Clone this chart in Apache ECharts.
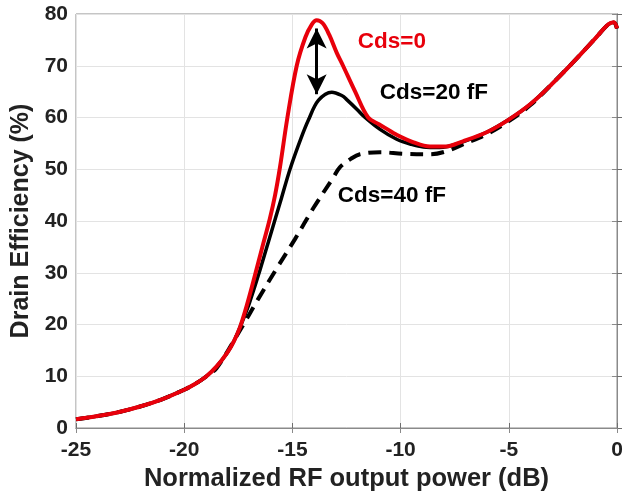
<!DOCTYPE html>
<html>
<head>
<meta charset="utf-8">
<script src="https://cdn.jsdelivr.net/npm/echarts@6/dist/echarts.min.js"></script>
<style>
html,body{margin:0;padding:0;background:#fff;}
#chart{width:632px;height:497px;}
</style>
</head>
<body>
<div id="chart"></div>
<script>
// ---- data ----
const xTicks = [-25, -20, -15, -10, -5, 0];
const yTicks = [0, 10, 20, 30, 40, 50, 60, 70, 80];

const cds0X = [-25, -24, -23, -22, -21, -20, -19.5, -19, -18.5, -18, -17.7, -17.42, -17.1, -16.73, -16.4, -16.04, -15.8, -15.57, -15.23, -14.8, -14.4, -14.1, -13.88, -13.6, -13.3, -12.95, -12.66, -12.1, -11.5, -11, -10.6, -10.2, -9.4, -8.64, -7.9, -7.12, -6, -5, -4, -3, -2, -1, -0.4, -0.15, 0];
const cds0Y = [1.7, 2.3, 3.1, 4.2, 5.6, 7.4, 8.5, 9.9, 11.9, 14.6, 16.8, 19.5, 23.8, 29.5, 34.8, 40.5, 45, 50.5, 60, 70, 75.5, 78, 78.8, 78.2, 76, 72.5, 70, 65, 60, 58.7, 57.7, 56.7, 55.2, 54.4, 54.4, 55.4, 57.2, 59.6, 62.6, 66.5, 70.8, 75.3, 78, 78.4, 77.2];

const cds20X = [-25, -24, -23, -22, -21, -20, -19.5, -19, -18.5, -18, -17.7, -17.42, -17, -16.5, -16, -15.5, -15.11, -14.6, -14.26, -13.8, -13.18, -12.7, -12.5, -12, -11.72, -10.95, -10.18, -9.5, -8.95, -8.2, -7.12, -6, -5, -4, -3, -2, -1, -0.4, -0.15, 0];
const cds20Y = [1.7, 2.3, 3.1, 4.2, 5.6, 7.4, 8.5, 9.9, 11.9, 14.6, 16.8, 19.5, 24, 30.5, 37.5, 44.5, 50, 56, 59.5, 63.3, 64.9, 64.2, 63.5, 61.5, 60.3, 57.7, 55.8, 54.8, 54.3, 54.2, 55.3, 57.2, 59.6, 62.6, 66.5, 70.8, 75.3, 78, 78.4, 77.2];

const cds40X = [-25, -24, -23, -22, -21, -20, -19.5, -19, -18.5, -17.42, -16.57, -15.73, -14.88, -14.03, -13.11, -12.8, -12.3, -11.88, -10.95, -9.88, -8.64, -7.87, -7, -6, -5, -4, -3, -2, -1, -0.4, -0.15, 0];
const cds40Y = [1.7, 2.3, 3.1, 4.2, 5.6, 7.4, 8.5, 9.9, 11.6, 18.9, 25, 30.8, 36.5, 42.5, 48.4, 50.4, 52, 52.9, 53.3, 53, 52.9, 53.5, 55, 56.8, 59.3, 62.4, 66.5, 70.8, 75.3, 78, 78.4, 77.2];

const arrowX = [-13.88, -13.88];
const arrowY = [77.2, 64.5];

const labelTexts = ['Cds=0', 'Cds=20 fF', 'Cds=40 fF'];
const labelX = [-10.4, -8.46, -10.4];
const labelY = [74.6, 64.8, 44.8];
const labelColors = ['#e8000b', '#000000', '#000000'];

const xTitle = 'Normalized RF output power (dB)';
const yTitle = 'Drain Efficiency (%)';

function pairs(xs, ys) { return xs.map((x, i) => [x, ys[i]]); }

const FONT = '"Liberation Sans", Arial, sans-serif';
const chart = echarts.init(document.getElementById('chart'), null, {renderer: 'canvas'});

const option = {
  animation: false,
  backgroundColor: '#ffffff',
  grid: {left: 76, right: 15, top: 14, bottom: 67, show: true, borderColor: '#8a8a8a', borderWidth: 1, backgroundColor: 'transparent'},
  xAxis: [{
    type: 'value', min: xTicks[0], max: xTicks[xTicks.length - 1], interval: 5,
    name: xTitle, nameLocation: 'middle', nameGap: 38,
    nameTextStyle: {fontFamily: FONT, fontWeight: 'bold', fontSize: 25.5, color: '#222'},
    axisLine: {show: true, lineStyle: {color: '#6e6e6e', width: 1}},
    axisTick: {show: true, inside: true, length: 5, lineStyle: {color: '#6e6e6e'}},
    axisLabel: {margin: 12, fontFamily: FONT, fontWeight: 'bold', fontSize: 21, color: '#222'},
    splitLine: {show: true, lineStyle: {color: '#e3e3e3', width: 1}}
  }, {
    type: 'value', position: 'top', min: xTicks[0], max: xTicks[xTicks.length - 1], interval: 5,
    axisLine: {show: true, lineStyle: {color: '#8a8a8a'}},
    axisTick: {show: true, inside: true, length: 5, lineStyle: {color: '#8a8a8a'}},
    axisLabel: {show: false}, splitLine: {show: false}
  }],
  yAxis: [{
    type: 'value', min: yTicks[0], max: yTicks[yTicks.length - 1], interval: 10,
    name: yTitle, nameLocation: 'middle', nameGap: 34,
    nameTextStyle: {fontFamily: FONT, fontWeight: 'bold', fontSize: 25, color: '#222'},
    axisLine: {show: true, lineStyle: {color: '#6e6e6e', width: 1}},
    axisTick: {show: true, inside: true, length: 5, lineStyle: {color: '#6e6e6e'}},
    axisLabel: {margin: 8, fontFamily: FONT, fontWeight: 'bold', fontSize: 21, color: '#222'},
    splitLine: {show: true, lineStyle: {color: '#e3e3e3', width: 1}}
  }, {
    type: 'value', position: 'right', min: yTicks[0], max: yTicks[yTicks.length - 1], interval: 10,
    axisLine: {show: true, lineStyle: {color: '#8a8a8a'}},
    axisTick: {show: true, inside: true, length: 5, lineStyle: {color: '#8a8a8a'}},
    axisLabel: {show: false}, splitLine: {show: false}
  }],
  series: [
    {name: 'Cds=40 fF', type: 'line', data: pairs(cds40X, cds40Y), smooth: 0.35, symbol: 'none',
     lineStyle: {color: '#000', width: 4, type: [13, 8]}, z: 2},
    {name: 'Cds=20 fF', type: 'line', data: pairs(cds20X, cds20Y), smooth: 0.35, symbol: 'none',
     lineStyle: {color: '#000', width: 3.5}, z: 3},
    {name: 'Cds=0', type: 'line', data: pairs(cds0X, cds0Y), smooth: 0.35, symbol: 'none',
     lineStyle: {color: '#e8000b', width: 4}, z: 4},
    {name: 'arrow', type: 'line', data: [], symbol: 'none', z: 5,
     markLine: {silent: true, symbol: ['arrow', 'arrow'], symbolSize: [15, 20],
       label: {show: false},
       lineStyle: {color: '#000', width: 3, type: 'solid'},
       data: [[{coord: [arrowX[0], arrowY[0]]}, {coord: [arrowX[1], arrowY[1]]}]]}}
  ]
};
chart.setOption(option);

const graphics = labelTexts.map((t, i) => {
  const p = chart.convertToPixel({xAxisIndex: 0, yAxisIndex: 0}, [labelX[i], labelY[i]]);
  return {type: 'text', x: p[0], y: p[1], z: 10,
    style: {text: t, fill: labelColors[i], font: 'bold 22.5px ' + FONT, textAlign: 'center', textVerticalAlign: 'middle'}};
});
chart.setOption({graphic: graphics});
</script>
</body>
</html>
